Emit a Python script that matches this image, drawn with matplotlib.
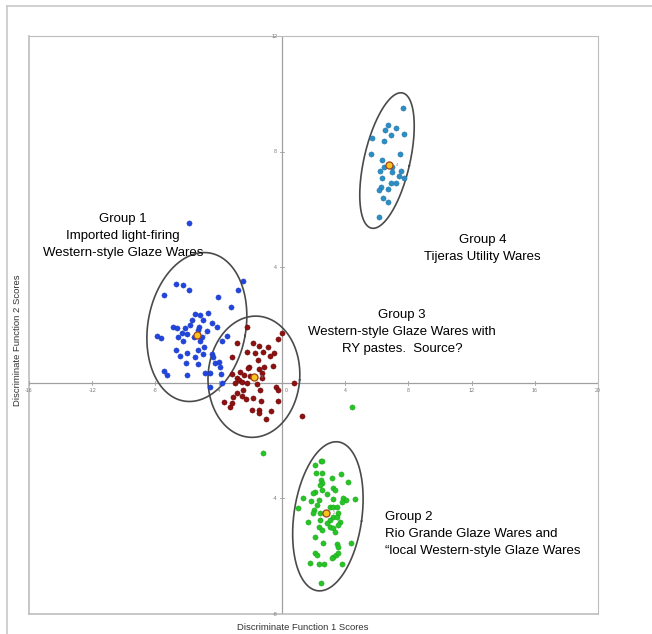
import numpy as np
import matplotlib
matplotlib.use("Agg")
import matplotlib.pyplot as plt
from matplotlib.lines import Line2D

plt.rcParams['font.family'] = ['Liberation Sans', 'DejaVu Sans']

# discriminant scores (function 1, function 2)
g1_x = [-5.89, -6.71, -6.27, -5.89, -7.47, -2.47, -2.78, -4.05, -3.23, -5.51, -5.19, -4.68,
        -5.70, -5.00, -4.43, -4.11, -5.82, -6.90, -6.65, -6.14, -5.25, -4.75, -6.33, -6.01,
        -5.32, -7.91, -7.66, -6.58, -6.27, -5.57, -5.06, -3.48, -3.80, -5.19, -6.71, -6.46,
        -6.01, -5.32, -4.94, -4.43, -5.51, -5.00, -6.08, -5.32, -4.37, -4.24, -3.99, -3.92,
        -7.47, -7.28, -6.01, -4.87, -4.56, -3.86, -3.80, -4.56]
g1_y = [5.52, 3.41, 3.38, 3.21, 3.03, 3.52, 3.21, 2.97, 2.62, 2.38, 2.34, 2.41,
        2.17, 2.17, 2.07, 1.93, 2.00, 1.93, 1.90, 1.90, 1.93, 1.79, 1.72, 1.69,
        1.83, 1.62, 1.55, 1.59, 1.45, 1.59, 1.59, 1.62, 1.45, 1.45, 1.14, 0.93,
        1.03, 1.14, 1.24, 1.00, 0.90, 1.00, 0.69, 0.66, 0.90, 0.69, 0.72, 0.55,
        0.41, 0.28, 0.28, 0.34, 0.34, 0.31, 0.00, -0.14]

g2_x = [2.47, 2.53, 2.09, 2.15, 2.53, 3.73, 3.16, 2.47, 2.53, 4.18, 2.41, 3.23, 3.35,
        2.09, 1.96, 2.53, 2.85, 3.86, 4.05, 4.62, 1.33, 1.84, 2.34, 3.23, 3.80, 2.22,
        3.04, 3.23, 3.48, 1.01, 2.03, 3.54, 1.96, 2.41, 3.23, 3.48, 2.41, 1.65, 3.04,
        3.67, 3.54, 2.85, 3.04, 2.34, 3.23, 2.53, 2.09, 3.35, 2.59, 4.37, 3.48, 3.54,
        2.09, 2.22, 3.23, 3.42, 3.54, 3.16, 1.77, 2.34, 2.66, 3.80, 2.47, -1.20, 4.43]
g2_y = [-2.70, -2.70, -2.84, -3.11, -3.11, -3.15, -3.29, -3.36, -3.46, -3.43, -3.53, -3.63, -3.70,
        -3.77, -3.81, -3.70, -3.84, -3.98, -4.05, -4.01, -3.98, -4.08, -4.05, -4.01, -4.12, -4.22,
        -4.29, -4.29, -4.29, -4.33, -4.39, -4.50, -4.50, -4.50, -4.64, -4.64, -4.74, -4.81, -4.74,
        -4.81, -4.91, -4.84, -4.98, -4.98, -5.02, -5.09, -5.33, -5.16, -5.54, -5.54, -5.57, -5.67,
        -5.88, -5.95, -6.02, -5.95, -5.88, -6.06, -6.23, -6.26, -6.26, -6.26, -6.92, -2.42, -0.83]

g3_x = [-2.22, 0.00, -0.25, -2.85, -1.84, -1.46, -0.89, -1.20, -2.22, -1.71, -0.51, -0.76,
        -3.16, -1.52, -0.57, -2.09, -2.15, -1.46, -1.14, -2.66, -1.27, -3.16, -2.41, -2.03,
        -2.85, -2.72, -1.27, -2.53, -2.97, -2.22, 0.76, -0.38, -0.25, -2.47, -2.85, -1.39,
        -2.53, -1.84, -2.28, -3.10, -1.33, -0.25, -3.67, -3.16, -3.29, -1.90, -1.46, -1.46,
        -0.70, -1.01, 1.27, -1.58]
g3_y = [1.94, 1.73, 1.52, 1.38, 1.38, 1.28, 1.25, 1.07, 1.07, 1.04, 1.04, 0.93,
        0.90, 0.80, 0.59, 0.55, 0.52, 0.48, 0.55, 0.38, 0.35, 0.31, 0.28, 0.24,
        0.17, 0.10, 0.17, 0.03, 0.00, 0.00, 0.00, -0.14, -0.24, -0.24, -0.35, -0.24,
        -0.45, -0.52, -0.55, -0.48, -0.62, -0.62, -0.66, -0.69, -0.83, -0.93, -0.93, -1.04,
        -0.97, -1.25, -1.14, -0.03]

g4_x = [7.66, 6.71, 6.52, 7.22, 6.90, 7.72, 5.70, 6.46, 5.63, 7.47, 6.33, 6.46, 6.20, 6.96,
        6.96, 7.53, 7.72, 7.41, 6.33, 6.90, 7.22, 6.27, 6.71, 6.14, 6.39, 6.71, 6.14]
g4_y = [9.52, 8.93, 8.76, 8.83, 8.59, 8.62, 8.48, 8.38, 7.90, 7.93, 7.72, 7.48, 7.34, 7.45,
        7.28, 7.34, 7.10, 7.17, 7.10, 6.93, 6.90, 6.76, 6.72, 6.66, 6.38, 6.24, 5.72]

# group centroids
cen_x = [-5.38, 2.78, -1.77, 6.77]
cen_y = [1.66, -4.50, 0.21, 7.55]

x_ticks = [-16, -12, -8, -4, 0, 4, 8, 12, 16, 20]
y_ticks = [-8, -4, 4, 8, 12]

# ellipse: centre, half width (x units), half height (y units), lean in degrees
ellipses = [
    ((-5.38, 1.93), 3.1, 2.6, -10),
    ((2.91, -4.62), 2.15, 2.6, -8),
    ((-1.77, 0.21), 2.9, 2.1, -4),
    ((6.65, 7.69), 1.45, 2.4, -13),
]


def draw_ellipse(ax, centre, a, b, lean):
    # build the ring in screen units so the lean looks right, then go back to data
    p0 = ax.transData.transform((0, 0))
    p1 = ax.transData.transform((1, 1))
    sx, sy = p1[0] - p0[0], p1[1] - p0[1]
    t = np.linspace(0, 2 * np.pi, 300)
    u = a * sx * np.cos(t)
    v = b * sy * np.sin(t)
    th = np.radians(lean)
    dx = (u * np.cos(th) - v * np.sin(th)) / sx
    dy = (u * np.sin(th) + v * np.cos(th)) / sy
    ax.plot(centre[0] + dx, centre[1] + dy, color='#4a4a4a', lw=1.2, zorder=2)


fig = plt.figure(figsize=(6.52, 6.34), dpi=100)
ax = fig.add_axes([29 / 652, 20 / 634, 569 / 652, 578 / 634])
ax.set_xlim(-16, 20)
ax.set_ylim(-8, 12)

# plot area frame, axes through zero
for side in ['top', 'right']:
    ax.spines[side].set_color('#bdbdbd')
ax.spines['left'].set_visible(False)
ax.spines['bottom'].set_visible(False)
ax.plot([0, 1], [0, 0], transform=ax.transAxes, color='#bdbdbd', lw=1.2, clip_on=False)
ax.plot([0, 0], [0, 1], transform=ax.transAxes, color='#bdbdbd', lw=1.2, clip_on=False)
ax.axhline(0, color='#a0a0a0', lw=0.9, zorder=1)
ax.axvline(0, color='#a0a0a0', lw=0.9, zorder=1)
ax.set_xticks([])
ax.set_yticks([])

for v in x_ticks:
    ax.plot([v, v], [-0.07, 0.07], color='#a0a0a0', lw=0.6)
    ax.text(v + (0.25 if v == 0 else 0), -0.18, str(v), fontsize=3.8, color='#777777',
            ha='center', va='top')
for v in y_ticks:
    ax.plot([-0.12, 0.12], [v, v], color='#a0a0a0', lw=0.6)
    ax.text(-0.3, v, str(v), fontsize=3.8, color='#777777', ha='right', va='center')

ms = 14
ax.scatter(g1_x, g1_y, s=ms, color='#2146e0', edgecolors='#1a34b0', linewidths=0.3, zorder=3)
ax.scatter(g2_x, g2_y, s=ms, color='#26c526', edgecolors='#1a9a1a', linewidths=0.3, zorder=3)
ax.scatter(g3_x, g3_y, s=ms, color='#8e1010', edgecolors='#5a0505', linewidths=0.3, zorder=3)
ax.scatter(g4_x, g4_y, s=ms, color='#2b8ec6', edgecolors='#1c6a98', linewidths=0.3, zorder=3)
ax.scatter(cen_x, cen_y, s=26, color='#f7c31e', edgecolors='#a2401c', linewidths=0.9, zorder=4)
for i, (cx, cy) in enumerate(zip(cen_x, cen_y)):
    ax.text(cx + 0.45, cy, str(i + 1), fontsize=3, color='#888888', va='center')

for centre, a, b, lean in ellipses:
    draw_ellipse(ax, centre, a, b, lean)

fs = 9.5
ls = 1.55
ax.text(-10.05, 5.08, "Group 1\nImported light-firing\nWestern-style Glaze Wares", fontsize=fs,
        ha='center', va='center', linespacing=ls)
ax.text(12.7, 4.64, "Group 4\nTijeras Utility Wares", fontsize=fs,
        ha='center', va='center', linespacing=ls)
ax.text(7.6, 1.77, "Group 3\nWestern-style Glaze Wares with\nRY pastes.  Source?", fontsize=fs,
        ha='center', va='center', linespacing=ls)
ax.text(6.5, -5.23, "Group 2\nRio Grande Glaze Wares and\n\u201clocal Western-style Glaze Wares",
        fontsize=fs, ha='left', va='center', linespacing=ls)

fig.text(303 / 652, 1 - 628 / 634, "Discriminate Function 1 Scores", fontsize=6.8,
         ha='center', va='center', color='#333333')
fig.text(18 / 652, 1 - 340 / 634, "Discriminate Function 2 Scores", fontsize=6.8,
         ha='center', va='center', rotation=90, color='#333333')

# outer border of the pasted chart
fig.add_artist(Line2D([7 / 652, 7 / 652], [0, 1 - 6 / 634], color='#c8c8c8', lw=1.2))
fig.add_artist(Line2D([7 / 652, 1], [1 - 6 / 634, 1 - 6 / 634], color='#c8c8c8', lw=1.2))

fig.savefig('out.png', dpi=100)
